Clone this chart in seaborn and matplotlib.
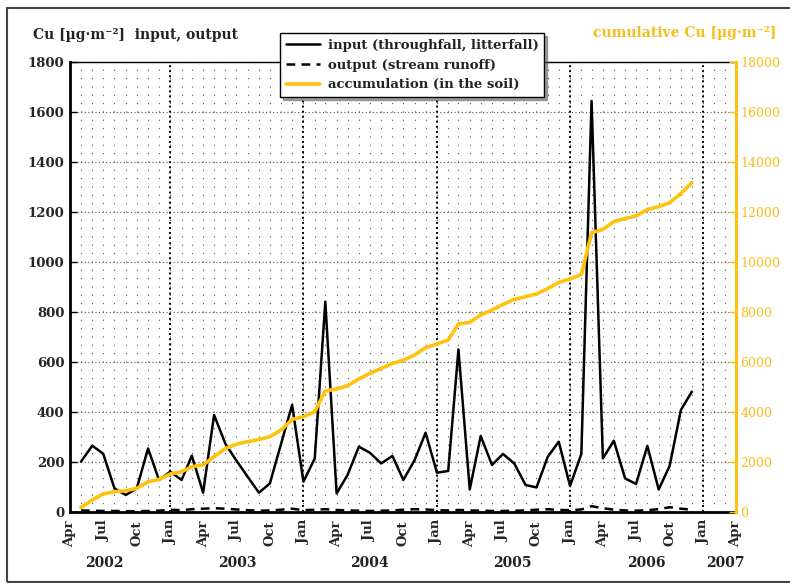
import numpy as np
import pandas as pd
import matplotlib
matplotlib.use("Agg")
import matplotlib.pyplot as plt
import matplotlib.dates as mdates
from matplotlib.lines import Line2D
from matplotlib.patches import Rectangle
import seaborn as sns

# Monthly Cu fluxes (µg·m⁻²), May 2002 – Dec 2006
months = pd.date_range("2002-05-01", "2006-12-01", freq="MS")

input_cu = [200, 264, 232, 93, 67, 93, 253, 127, 160, 127, 224, 76, 387, 272,
            205, 140, 76, 113, 273, 427, 120, 213, 840, 73, 147, 260, 236, 193,
            223, 127, 207, 316, 156, 163, 649, 89, 303, 187, 231, 193, 107, 97,
            220, 280, 103, 231, 1643, 213, 284, 133, 111, 263, 89, 183, 407, 480]

output_cu = [5, 4, 3, 3, 2, 2, 3, 4, 8, 6, 10, 12, 14, 12, 9, 6, 4, 5, 8, 12,
             6, 8, 10, 7, 5, 4, 3, 4, 5, 8, 10, 9, 6, 5, 7, 5, 4, 3, 3, 4,
             5, 8, 10, 7, 6, 9, 22, 14, 8, 5, 4, 6, 10, 18, 12, 8]

accumulation = [170, 470, 710, 800, 840, 930, 1200, 1290, 1510, 1600, 1800, 1870,
                2200, 2530, 2700, 2800, 2890, 3000, 3270, 3690, 3800, 4000, 4830,
                4910, 5040, 5310, 5530, 5730, 5930, 6060, 6270, 6560, 6710, 6870,
                7510, 7570, 7870, 8070, 8290, 8490, 8600, 8710, 8930, 9170, 9310,
                9490, 11160, 11290, 11600, 11730, 11830, 12090, 12200, 12360,
                12730, 13160]

legend_labels = ["input (throughfall, litterfall)",
                 "output (stream runoff)",
                 "accumulation (in the soil)"]
year_labels = ["2002", "2003", "2004", "2005", "2006", "2007"]
year_label_pos = ["2002-07-05", "2003-07-03", "2004-06-29",
                  "2005-07-28", "2006-07-28", "2007-03-04"]

df = pd.DataFrame({"month": months, "input": input_cu,
                   "output": output_cu, "accumulation": accumulation})

sns.set_theme(style="white")
plt.rcParams["font.family"] = ["DejaVu Serif"]
plt.rcParams["font.weight"] = "bold"

YELLOW = "#FFC20E"
YELLOW_TXT = "#F7BE1A"

fig = plt.figure(figsize=(7.9, 5.83), dpi=100)
ax = fig.add_axes([70 / 790, 1 - 511.7 / 583, (736 - 70) / 790, 450 / 583])
ax2 = ax.twinx()

sns.lineplot(data=df, x="month", y="input", ax=ax, color="black", lw=1.8)
sns.lineplot(data=df, x="month", y="output", ax=ax, color="black", lw=1.8,
             linestyle=(0, (3.5, 2.5)))
sns.lineplot(data=df, x="month", y="accumulation", ax=ax2, color=YELLOW, lw=2.6)

ax.set_xlim(pd.Timestamp("2002-04-01"), pd.Timestamp("2007-04-01"))
ax.set_ylim(0, 1800)
ax2.set_ylim(0, 18000)
ax.set_xlabel("")
ax.set_ylabel("")
ax2.set_ylabel("")

# grid: dotted months, dotted 200-steps, heavier dotted year boundaries
ax.set_yticks(np.arange(0, 1801, 200))
ax2.set_yticks(np.arange(0, 18001, 2000))
ax.xaxis.set_major_locator(mdates.MonthLocator(bymonth=[1, 4, 7, 10]))
ax.xaxis.set_major_formatter(mdates.DateFormatter("%b"))
ax.xaxis.set_minor_locator(mdates.MonthLocator())
ax.grid(False)
ax2.grid(False)
ax.grid(axis="y", which="major", color="#555555", lw=0.8, linestyle=(0, (1, 2.2)))
ax.grid(axis="x", which="both", color="#555555", lw=0.8, linestyle=(0, (1, 6.5)))
for yr in range(2003, 2008):
    ax.axvline(pd.Timestamp(f"{yr}-01-01"), color="black", lw=1.4,
               linestyle=(0, (1, 1.6)), zorder=1.5)

ax.tick_params(axis="x", which="major", direction="in", length=6, width=1,
               labelsize=9.5, labelrotation=90, pad=6, color="black")
ax.tick_params(axis="x", which="minor", direction="in", length=4, width=1, color="black")
ax.tick_params(axis="y", which="major", direction="in", length=5, width=1,
               labelsize=9.5, pad=4, color="black", left=True)
ax2.tick_params(axis="y", which="major", direction="in", length=5, width=1,
                labelsize=9, pad=3, colors=YELLOW_TXT, right=True)
for lab in ax.get_xticklabels() + ax.get_yticklabels():
    lab.set_fontweight("bold")
for lab in ax2.get_yticklabels():
    lab.set_fontweight("normal")

for name, sp in ax.spines.items():
    sp.set_color("black")
ax.spines["left"].set_linewidth(2)
ax.spines["bottom"].set_linewidth(2)
ax.spines["top"].set_linewidth(1)
ax.spines["right"].set_visible(False)
ax2.spines["right"].set_color(YELLOW)
ax2.spines["right"].set_linewidth(2.2)
ax2.spines["left"].set_visible(False)
ax2.spines["bottom"].set_visible(False)
ax2.spines["top"].set_visible(False)

# year labels under the month ticks
for txt, pos in zip(year_labels, year_label_pos):
    ax.text(mdates.date2num(pd.Timestamp(pos)), -0.114, txt,
            transform=ax.get_xaxis_transform(), ha="center", va="center",
            fontsize=10, fontweight="bold", color="#222222")

fig.text(33 / 790, 1 - 35 / 583, "Cu [µg·m⁻²]  input, output", ha="left",
         va="center", fontsize=10, fontweight="bold", color="#222222")
fig.text(776 / 790, 1 - 33 / 583, "cumulative Cu [µg·m⁻²]", ha="right",
         va="center", fontsize=10, fontweight="bold", color=YELLOW_TXT)

handles = [Line2D([], [], color="black", lw=1.8),
           Line2D([], [], color="black", lw=1.8, linestyle=(0, (3.5, 2.5))),
           Line2D([], [], color=YELLOW, lw=2.6)]
leg = fig.legend(handles, legend_labels, loc="upper left",
                 bbox_to_anchor=(280 / 790, 1 - 33 / 583), borderaxespad=0,
                 frameon=True, fancybox=False, shadow=True, framealpha=1,
                 borderpad=0.45, labelspacing=0.5, handlelength=2.6,
                 handletextpad=0.55,
                 prop={"weight": "bold", "size": 9.5, "family": "DejaVu Serif"})
leg.get_frame().set_edgecolor("black")
leg.get_frame().set_linewidth(1)
for t in leg.get_texts():
    t.set_color("#222222")

# outer frame
fig.patches.append(Rectangle((7 / 790, 1.5 / 583), 790, 574 / 583,
                             transform=fig.transFigure, fill=False,
                             edgecolor="#444444", lw=1.5, zorder=0))

fig.savefig("out.png", dpi=100)
